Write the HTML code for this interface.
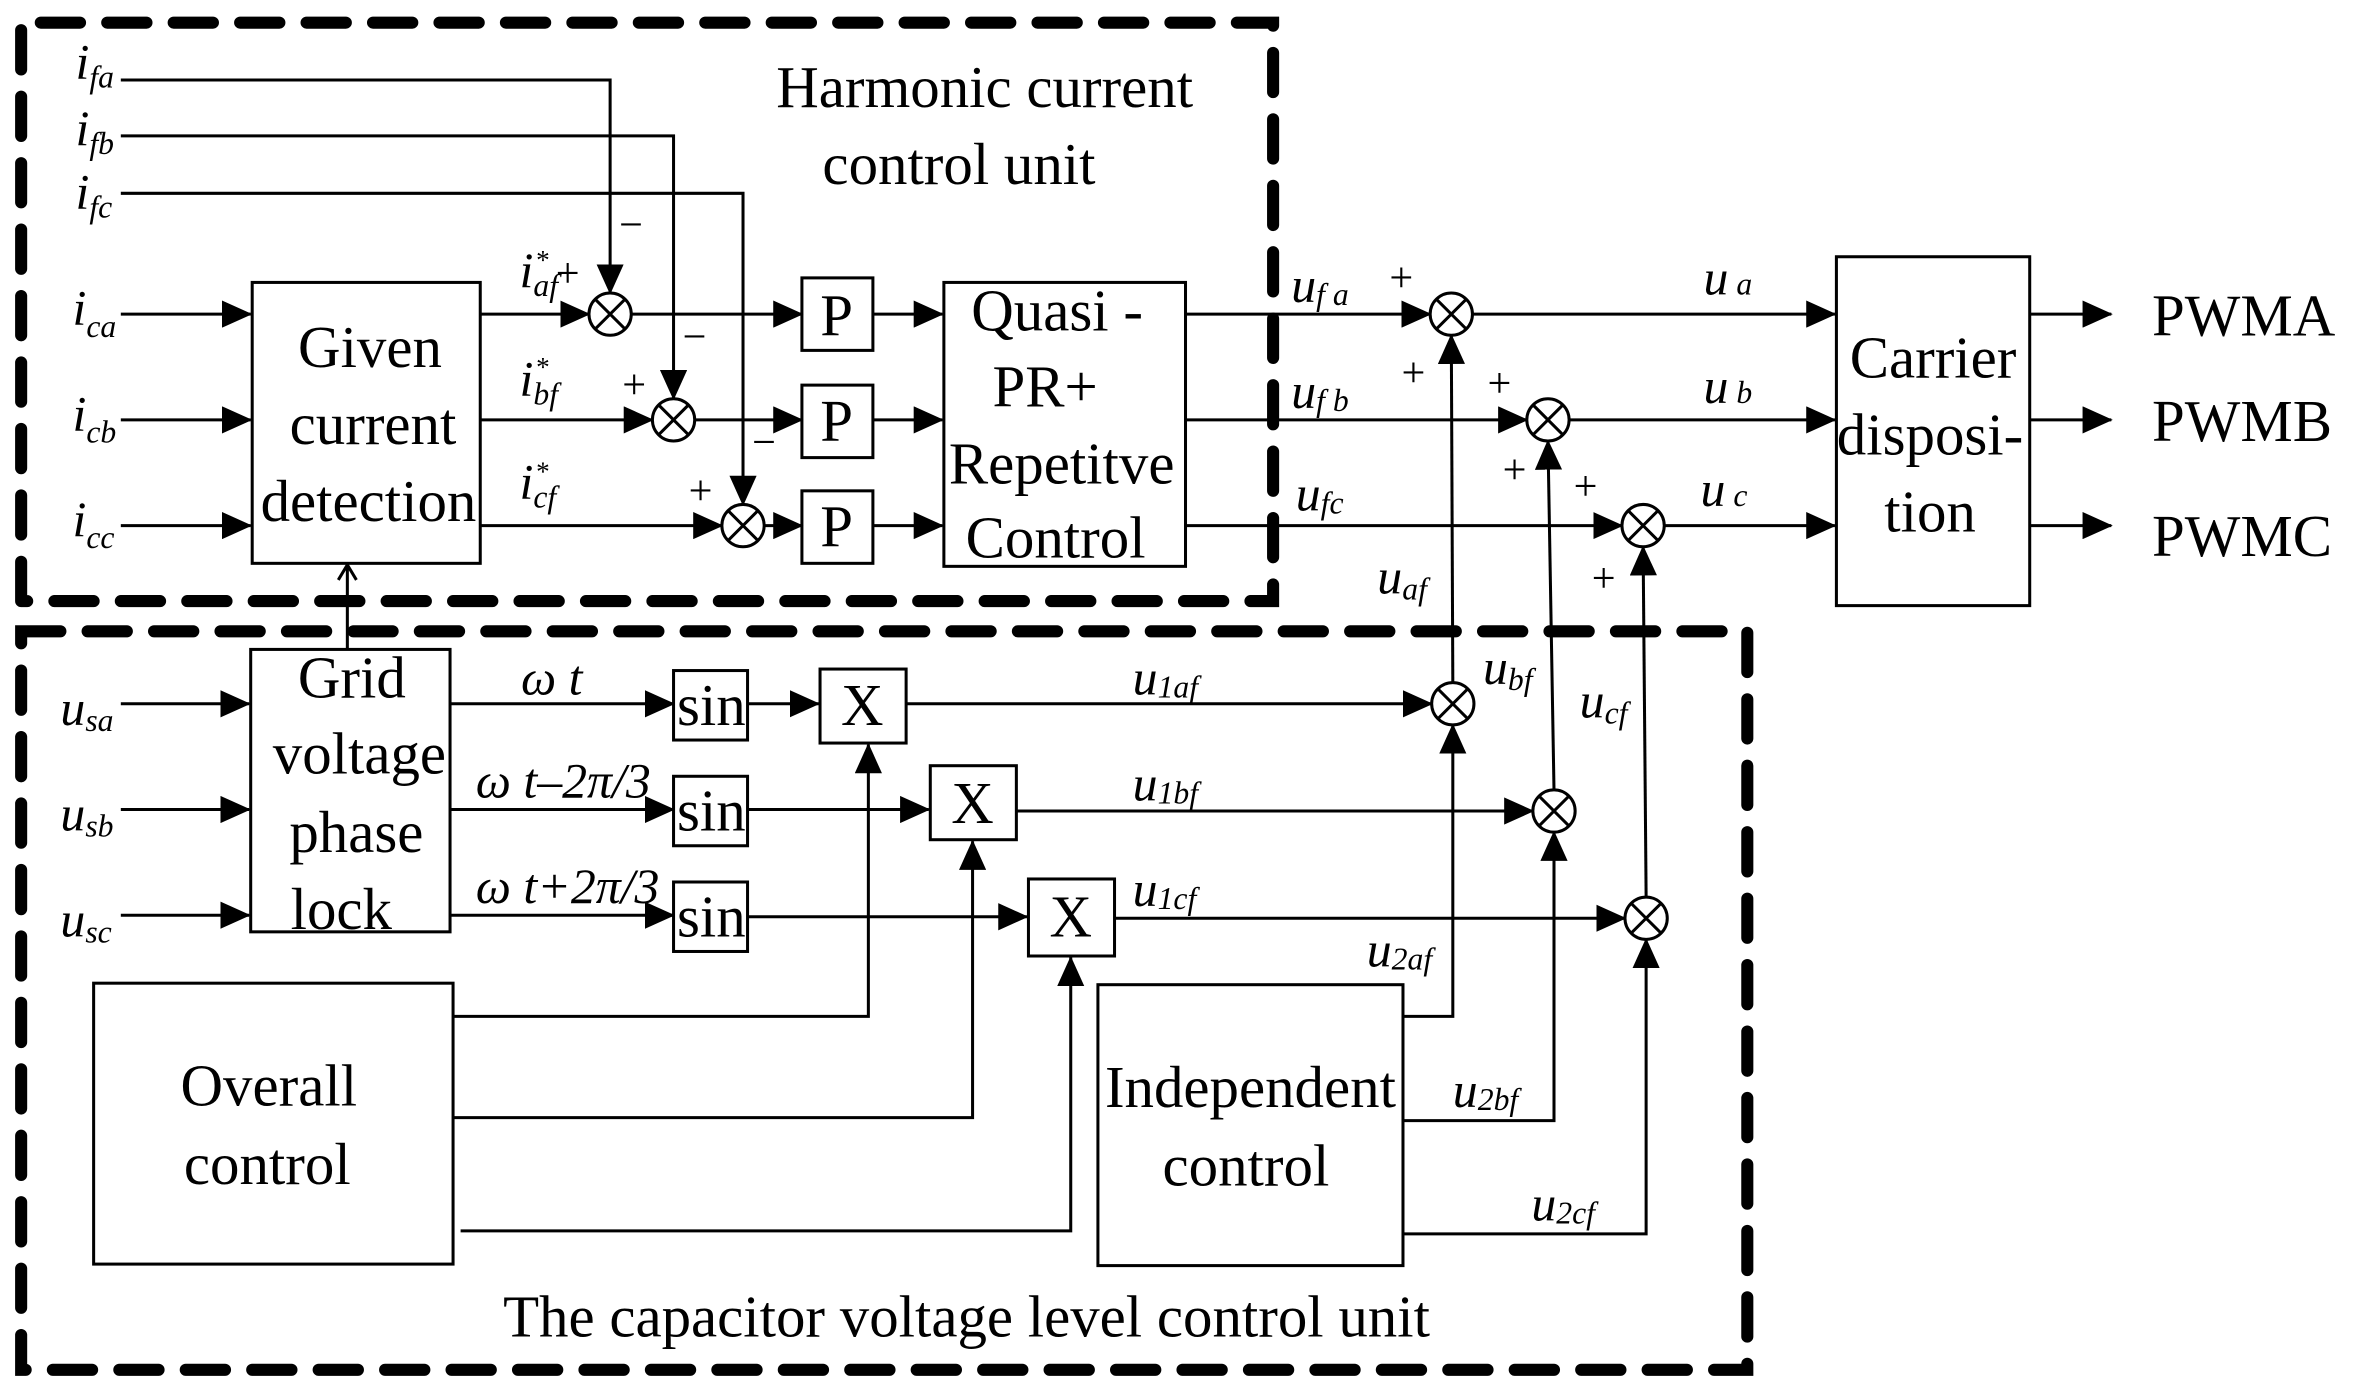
<!DOCTYPE html>
<html><head><meta charset="utf-8"><style>
html,body{margin:0;padding:0;background:#fff}
svg{display:block}
text{font-family:"Liberation Serif",serif;fill:#000}
.m{font-style:italic;font-size:33px}
.s{font-style:italic;font-size:21px}
.b{font-size:39px}
.pm{font-size:28px}
</style></head><body>
<svg width="2368" height="1397" viewBox="0 0 1568 925" preserveAspectRatio="none" xmlns="http://www.w3.org/2000/svg">
<defs>
<marker id="a" markerUnits="userSpaceOnUse" markerWidth="20" markerHeight="18" refX="19" refY="9" orient="auto"><path d="M0,0 L20,9 L0,18 Z" fill="#000"/></marker>
</defs>
<g fill="none" stroke="#000" stroke-linecap="round">
<path d="M14,398 L14,15 L843,15 L843,398 L14,398" stroke-width="8" stroke-dasharray="26,18"/>
<path d="M14,418 L1157,418 L1157,907 L14,907 Z" stroke-width="8" stroke-dasharray="26,18"/>
</g>
<g fill="none" stroke="#000" stroke-width="2">
<rect x="167" y="187" width="151" height="186"/>
<rect x="531" y="184" width="47" height="48"/>
<rect x="531" y="255" width="47" height="48"/>
<rect x="531" y="325" width="47" height="48"/>
<rect x="625" y="187" width="160" height="188"/>
<rect x="1216" y="170" width="128" height="231"/>
<rect x="166" y="430" width="132" height="187"/>
<rect x="446" y="444" width="49" height="46"/>
<rect x="446" y="514" width="49" height="46"/>
<rect x="446" y="584" width="49" height="46"/>
<rect x="543" y="443" width="57" height="49"/>
<rect x="616" y="507" width="57" height="49"/>
<rect x="681" y="582" width="57" height="51"/>
<rect x="62" y="651" width="238" height="186"/>
<rect x="727" y="652" width="202" height="186"/>
<g>
<circle cx="404" cy="208" r="14"/><path d="M394,198 L414,218 M414,198 L394,218"/>
<circle cx="446" cy="278" r="14"/><path d="M436,268 L456,288 M456,268 L436,288"/>
<circle cx="492" cy="348" r="14"/><path d="M482,338 L502,358 M502,338 L482,358"/>
<circle cx="961" cy="208" r="14"/><path d="M951,198 L971,218 M971,198 L951,218"/>
<circle cx="1025" cy="278" r="14"/><path d="M1015,268 L1035,288 M1035,268 L1015,288"/>
<circle cx="1088" cy="348" r="14"/><path d="M1078,338 L1098,358 M1098,338 L1078,358"/>
<circle cx="962" cy="466" r="14"/><path d="M952,456 L972,476 M972,456 L952,476"/>
<circle cx="1029" cy="537" r="14"/><path d="M1019,527 L1039,547 M1039,527 L1019,547"/>
<circle cx="1090" cy="608" r="14"/><path d="M1080,598 L1100,618 M1100,598 L1080,618"/>
</g>
<g marker-end="url(#a)">
<path d="M80,53 L404,53 L404,194"/>
<path d="M80,90 L446,90 L446,264"/>
<path d="M80,128 L492,128 L492,334"/>
<path d="M80,208 L166,208"/>
<path d="M80,278 L166,278"/>
<path d="M80,348 L166,348"/>
<path d="M318,208 L390,208"/>
<path d="M318,278 L432,278"/>
<path d="M318,348 L478,348"/>
<path d="M418,208 L531,208"/>
<path d="M460,278 L531,278"/>
<path d="M506,348 L531,348"/>
<path d="M578,208 L624,208"/>
<path d="M578,278 L624,278"/>
<path d="M578,348 L624,348"/>
<path d="M785,208 L947,208"/>
<path d="M785,278 L1011,278"/>
<path d="M785,348 L1074,348"/>
<path d="M975,208 L1215,208"/>
<path d="M1039,278 L1215,278"/>
<path d="M1102,348 L1215,348"/>
<path d="M1344,208 L1398,208"/>
<path d="M1344,278 L1398,278"/>
<path d="M1344,348 L1398,348"/>
<path d="M80,466 L165,466"/>
<path d="M80,536 L165,536"/>
<path d="M80,606 L165,606"/>
<path d="M298,466 L446,466"/>
<path d="M298,536 L446,536"/>
<path d="M298,606 L446,606"/>
<path d="M495,466 L542,466"/>
<path d="M495,536 L615,536"/>
<path d="M495,607 L680,607"/>
<path d="M600,466 L948,466"/>
<path d="M673,537 L1015,537"/>
<path d="M738,608 L1076,608"/>
<path d="M962,452 L961,222"/>
<path d="M1029,523 L1025,292"/>
<path d="M1090,594 L1088,362"/>
<path d="M300,673 L575,673 L575,493"/>
<path d="M300,740 L644,740 L644,557"/>
<path d="M305,815 L709,815 L709,634"/>
<path d="M929,673 L962,673 L962,480"/>
<path d="M929,742 L1029,742 L1029,551"/>
<path d="M929,817 L1090,817 L1090,622"/>
</g>
<path d="M230,430 L230,374 M224,384 L230,374 L236,384"/>
</g>
<text class="b" x="652" y="71" text-anchor="middle">Harmonic current</text>
<text class="b" x="635" y="122" text-anchor="middle">control unit</text>
<text class="b" x="245" y="243" text-anchor="middle">Given</text>
<text class="b" x="247" y="294" text-anchor="middle">current</text>
<text class="b" x="244" y="345" text-anchor="middle">detection</text>
<text class="b" x="554" y="222" text-anchor="middle">P</text>
<text class="b" x="554" y="292" text-anchor="middle">P</text>
<text class="b" x="554" y="362" text-anchor="middle">P</text>
<text class="b" x="700" y="219" text-anchor="middle">Quasi -</text>
<text class="b" x="692" y="269" text-anchor="middle">PR+</text>
<text class="b" x="703" y="320" text-anchor="middle">Repetitve</text>
<text class="b" x="699" y="369" text-anchor="middle">Control</text>
<text class="b" x="1280" y="250" text-anchor="middle">Carrier</text>
<text class="b" x="1278" y="301" text-anchor="middle">disposi-</text>
<text class="b" x="1278" y="352" text-anchor="middle">tion</text>
<text class="b" x="1425" y="222">PWMA</text>
<text class="b" x="1425" y="292">PWMB</text>
<text class="b" x="1425" y="368">PWMC</text>
<text class="b" x="233" y="462" text-anchor="middle">Grid</text>
<text class="b" x="238" y="512" text-anchor="middle">voltage</text>
<text class="b" x="236" y="564" text-anchor="middle">phase</text>
<text class="b" x="226" y="615" text-anchor="middle">lock</text>
<text class="b" x="471" y="480" text-anchor="middle">sin</text>
<text class="b" x="471" y="550" text-anchor="middle">sin</text>
<text class="b" x="471" y="620" text-anchor="middle">sin</text>
<text class="b" x="571" y="480" text-anchor="middle">X</text>
<text class="b" x="644" y="545" text-anchor="middle">X</text>
<text class="b" x="709" y="620" text-anchor="middle">X</text>
<text class="b" x="178" y="732" text-anchor="middle">Overall</text>
<text class="b" x="177" y="784" text-anchor="middle">control</text>
<text class="b" x="828" y="733" text-anchor="middle">Independent</text>
<text class="b" x="825" y="785" text-anchor="middle">control</text>
<text class="b" x="640" y="885" text-anchor="middle">The capacitor voltage level control unit</text>
<text class="m" x="50" y="52">i<tspan class="s" dy="6">fa</tspan></text>
<text class="m" x="50" y="96">i<tspan class="s" dy="6">fb</tspan></text>
<text class="m" x="50" y="138">i<tspan class="s" dy="6">fc</tspan></text>
<text class="m" x="48" y="215">i<tspan class="s" dy="8">ca</tspan></text>
<text class="m" x="48" y="285">i<tspan class="s" dy="8">cb</tspan></text>
<text class="m" x="48" y="355">i<tspan class="s" dy="8">cc</tspan></text>
<text class="m" x="344" y="190">i<tspan class="s" dy="6">af</tspan></text><text x="355" y="178" font-size="18">*</text><text class="pm" x="368" y="190">+</text>
<text class="m" x="344" y="262">i<tspan class="s" dy="6">bf</tspan></text><text x="355" y="249" font-size="18">*</text>
<text class="m" x="344" y="330">i<tspan class="s" dy="6">cf</tspan></text><text x="355" y="318" font-size="18">*</text>
<text class="pm" x="410" y="158">−</text>
<text class="pm" x="452" y="232">−</text>
<text class="pm" x="498" y="302">−</text>
<text class="pm" x="412" y="264">+</text>
<text class="pm" x="456" y="334">+</text>
<text class="m" x="855" y="200">u<tspan class="s" dy="2">f a</tspan></text>
<text class="m" x="855" y="270">u<tspan class="s" dy="2">f b</tspan></text>
<text class="m" x="858" y="338">u<tspan class="s" dy="2">fc</tspan></text>
<text class="m" x="1128" y="195">u<tspan class="s"> a</tspan></text>
<text class="m" x="1128" y="267">u<tspan class="s"> b</tspan></text>
<text class="m" x="1126" y="335">u<tspan class="s"> c</tspan></text>
<text class="pm" x="920" y="193">+</text>
<text class="pm" x="928" y="256">+</text>
<text class="pm" x="985" y="263">+</text>
<text class="pm" x="995" y="320">+</text>
<text class="pm" x="1042" y="331">+</text>
<text class="pm" x="1054" y="392">+</text>
<text class="m" x="912" y="393">u<tspan class="s" dy="4">af</tspan></text>
<text class="m" x="982" y="453">u<tspan class="s" dy="4">bf</tspan></text>
<text class="m" x="1046" y="475">u<tspan class="s" dy="4">cf</tspan></text>
<text class="m" x="345" y="460">ω t</text>
<text class="m" x="315" y="528">ω t–2π/3</text>
<text class="m" x="315" y="598">ω t+2π/3</text>
<text class="m" x="750" y="460">u<tspan class="s" dy="2">1af</tspan></text>
<text class="m" x="750" y="530">u<tspan class="s" dy="2">1bf</tspan></text>
<text class="m" x="750" y="600">u<tspan class="s" dy="2">1cf</tspan></text>
<text class="m" x="905" y="640">u<tspan class="s" dy="2">2af</tspan></text>
<text class="m" x="962" y="733">u<tspan class="s" dy="2">2bf</tspan></text>
<text class="m" x="1014" y="808">u<tspan class="s" dy="2">2cf</tspan></text>
<text class="m" x="40" y="480">u<tspan class="s" dy="4">sa</tspan></text>
<text class="m" x="40" y="550">u<tspan class="s" dy="4">sb</tspan></text>
<text class="m" x="40" y="620">u<tspan class="s" dy="4">sc</tspan></text>
</svg>
</body></html>
